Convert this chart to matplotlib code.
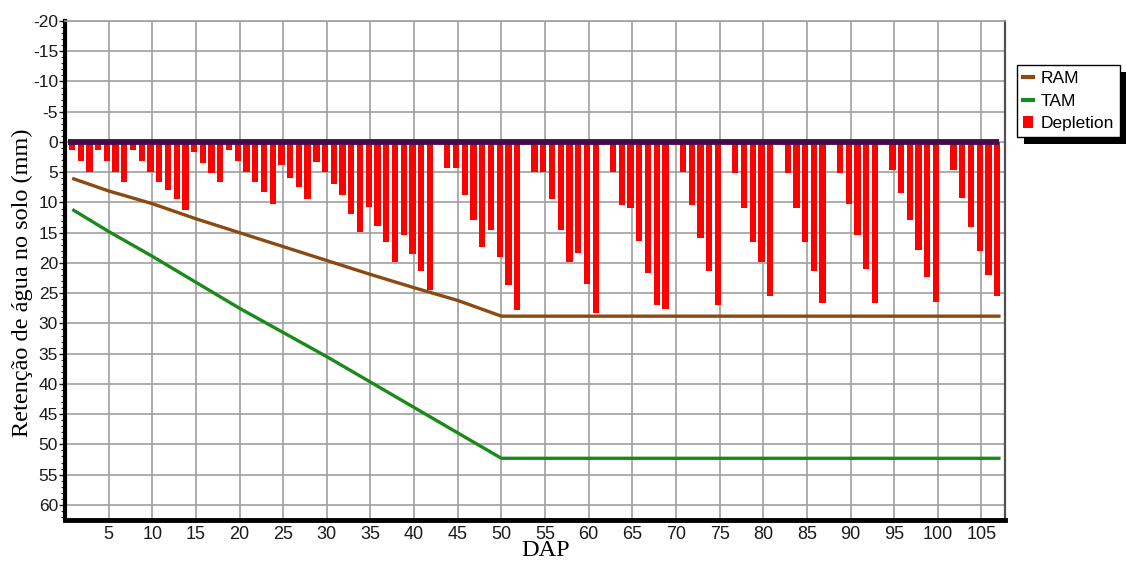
import matplotlib
matplotlib.use("Agg")
import matplotlib.pyplot as plt
from matplotlib.lines import Line2D
from matplotlib.patches import Patch, Rectangle
from matplotlib.transforms import IdentityTransform
from matplotlib.ticker import MultipleLocator
import numpy as np

# ---- data ----
days = list(range(1, 108))
depletion = [1.3, 3.1, 5.0, 1.3, 3.1, 5.0, 6.7, 1.4, 3.1, 5.0,
             6.7, 8.0, 9.5, 11.2, 1.6, 3.4, 5.1, 6.6, 1.3, 3.1,
             5.0, 6.6, 8.3, 10.2, 3.8, 6.0, 7.5, 9.4, 3.3, 5.0,
             7.0, 8.7, 11.9, 14.9, 10.7, 13.9, 16.6, 19.8, 15.4, 18.5,
             21.4, 24.5, 0.0, 4.3, 4.3, 8.7, 12.9, 17.3, 14.5, 19.0,
             23.6, 27.8, 0.0, 4.9, 4.9, 9.4, 14.5, 19.8, 18.3, 23.5,
             28.2, 0.0, 5.0, 10.4, 10.9, 16.4, 21.7, 26.9, 27.6, 0.0,
             5.0, 10.4, 15.9, 21.4, 26.9, 0.0, 5.2, 10.9, 16.6, 19.8,
             25.4, 0.0, 5.2, 10.9, 16.6, 21.4, 26.7, 0.0, 5.2, 10.2,
             15.4, 21.0, 26.7, 0.0, 4.6, 8.5, 12.9, 17.8, 22.4, 26.4,
             0.0, 4.6, 9.3, 14.1, 18.1, 22.0, 25.4]

line_days = [1, 5, 10, 15, 20, 25, 30, 35, 40, 45, 50, 107]
ram = [6.1, 8.1, 10.2, 12.7, 15.0, 17.3, 19.6, 21.9, 24.1, 26.2, 28.8, 28.8]
tam = [11.3, 14.8, 18.9, 23.2, 27.5, 31.5, 35.5, 39.7, 43.9, 48.1, 52.3, 52.3]

x_ticks = list(range(5, 106, 5))
y_ticks = list(range(-20, 61, 5))

# ---- figure ----
fig = plt.figure(figsize=(11.26, 5.63), dpi=100)
W, H = 1126, 563
ax = fig.add_axes([65 / W, 1 - 520 / H, 940 / W, 499 / H])

grid_c = "#a0a0a0"
ax.bar(np.array(days) - 0.2, depletion, width=0.72, color="#ff0000",
       zorder=3, label="Depletion")
ax.hlines(0, days[0] - 0.6, days[-1], color="#450a48", linewidth=4.2, zorder=5)
ax.plot(line_days, ram, color="#8b4a12", linewidth=2.4, zorder=4)
ax.plot(line_days, tam, color="#1a8a1a", linewidth=2.4, zorder=4)

ax.set_xlim(0, 107.7)
ax.set_ylim(62.5, -20)

ax.set_xticks(x_ticks)
ax.set_xticklabels([str(v) for v in x_ticks],
                   fontfamily=["Liberation Sans Narrow", "Liberation Sans"],
                   fontsize=13)
ax.set_yticks(y_ticks)
ax.set_yticklabels([str(v) for v in y_ticks], fontfamily="Liberation Sans",
                   fontsize=12.5)
ax.yaxis.set_minor_locator(MultipleLocator(1))
ax.tick_params(axis="x", length=0, pad=4, colors="#1a1a1a")
ax.tick_params(axis="y", which="major", length=4, width=1, pad=1,
               colors="#1a1a1a")
ax.tick_params(axis="y", which="minor", length=3, width=0.8, color="#333333")

ax.grid(True, which="major", color=grid_c, linewidth=1.2, zorder=0)
ax.set_axisbelow(True)

ax.spines["left"].set_linewidth(3)
ax.spines["left"].set_color("black")
ax.spines["bottom"].set_linewidth(3.5)
ax.spines["bottom"].set_color("black")
ax.spines["right"].set_linewidth(1.6)
ax.spines["right"].set_color("#505050")
ax.spines["top"].set_linewidth(1.2)
ax.spines["top"].set_color(grid_c)

fig.text(22 / W, 1 - 283 / H, "Retenção de água no solo (mm)", rotation=90,
         ha="center", va="center", fontfamily="Liberation Serif", fontsize=17.5)
fig.text(546 / W, 1 - 551 / H, "DAP", ha="center", va="center",
         fontfamily="Liberation Serif", fontsize=17.5)

handles = [Line2D([], [], color="#8b4a12", linewidth=3),
           Line2D([], [], color="#1a8a1a", linewidth=3),
           Patch(facecolor="#ff0000", edgecolor="none")]
leg = fig.legend(handles, ["RAM", "TAM", "Depletion"], loc="upper left",
                 bbox_to_anchor=(1017 / W, 1 - 65 / H),
                 bbox_transform=fig.transFigure, borderaxespad=0,
                 fancybox=False, frameon=True, edgecolor="black",
                 framealpha=1.0, facecolor="white",
                 prop={"family": "Liberation Sans", "size": 12.5},
                 handlelength=0.6, handletextpad=0.4, labelspacing=0.42,
                 borderpad=0.35)
leg.get_frame().set_linewidth(1.0)
leg.set_zorder(6)

fig.canvas.draw()
bb = leg.get_window_extent()
shadow = Rectangle((bb.x0 + 7, bb.y0 - 7), bb.width, bb.height,
                   transform=IdentityTransform(), facecolor="black",
                   edgecolor="none", zorder=5)
fig.add_artist(shadow)

fig.savefig("out.png", dpi=100)
